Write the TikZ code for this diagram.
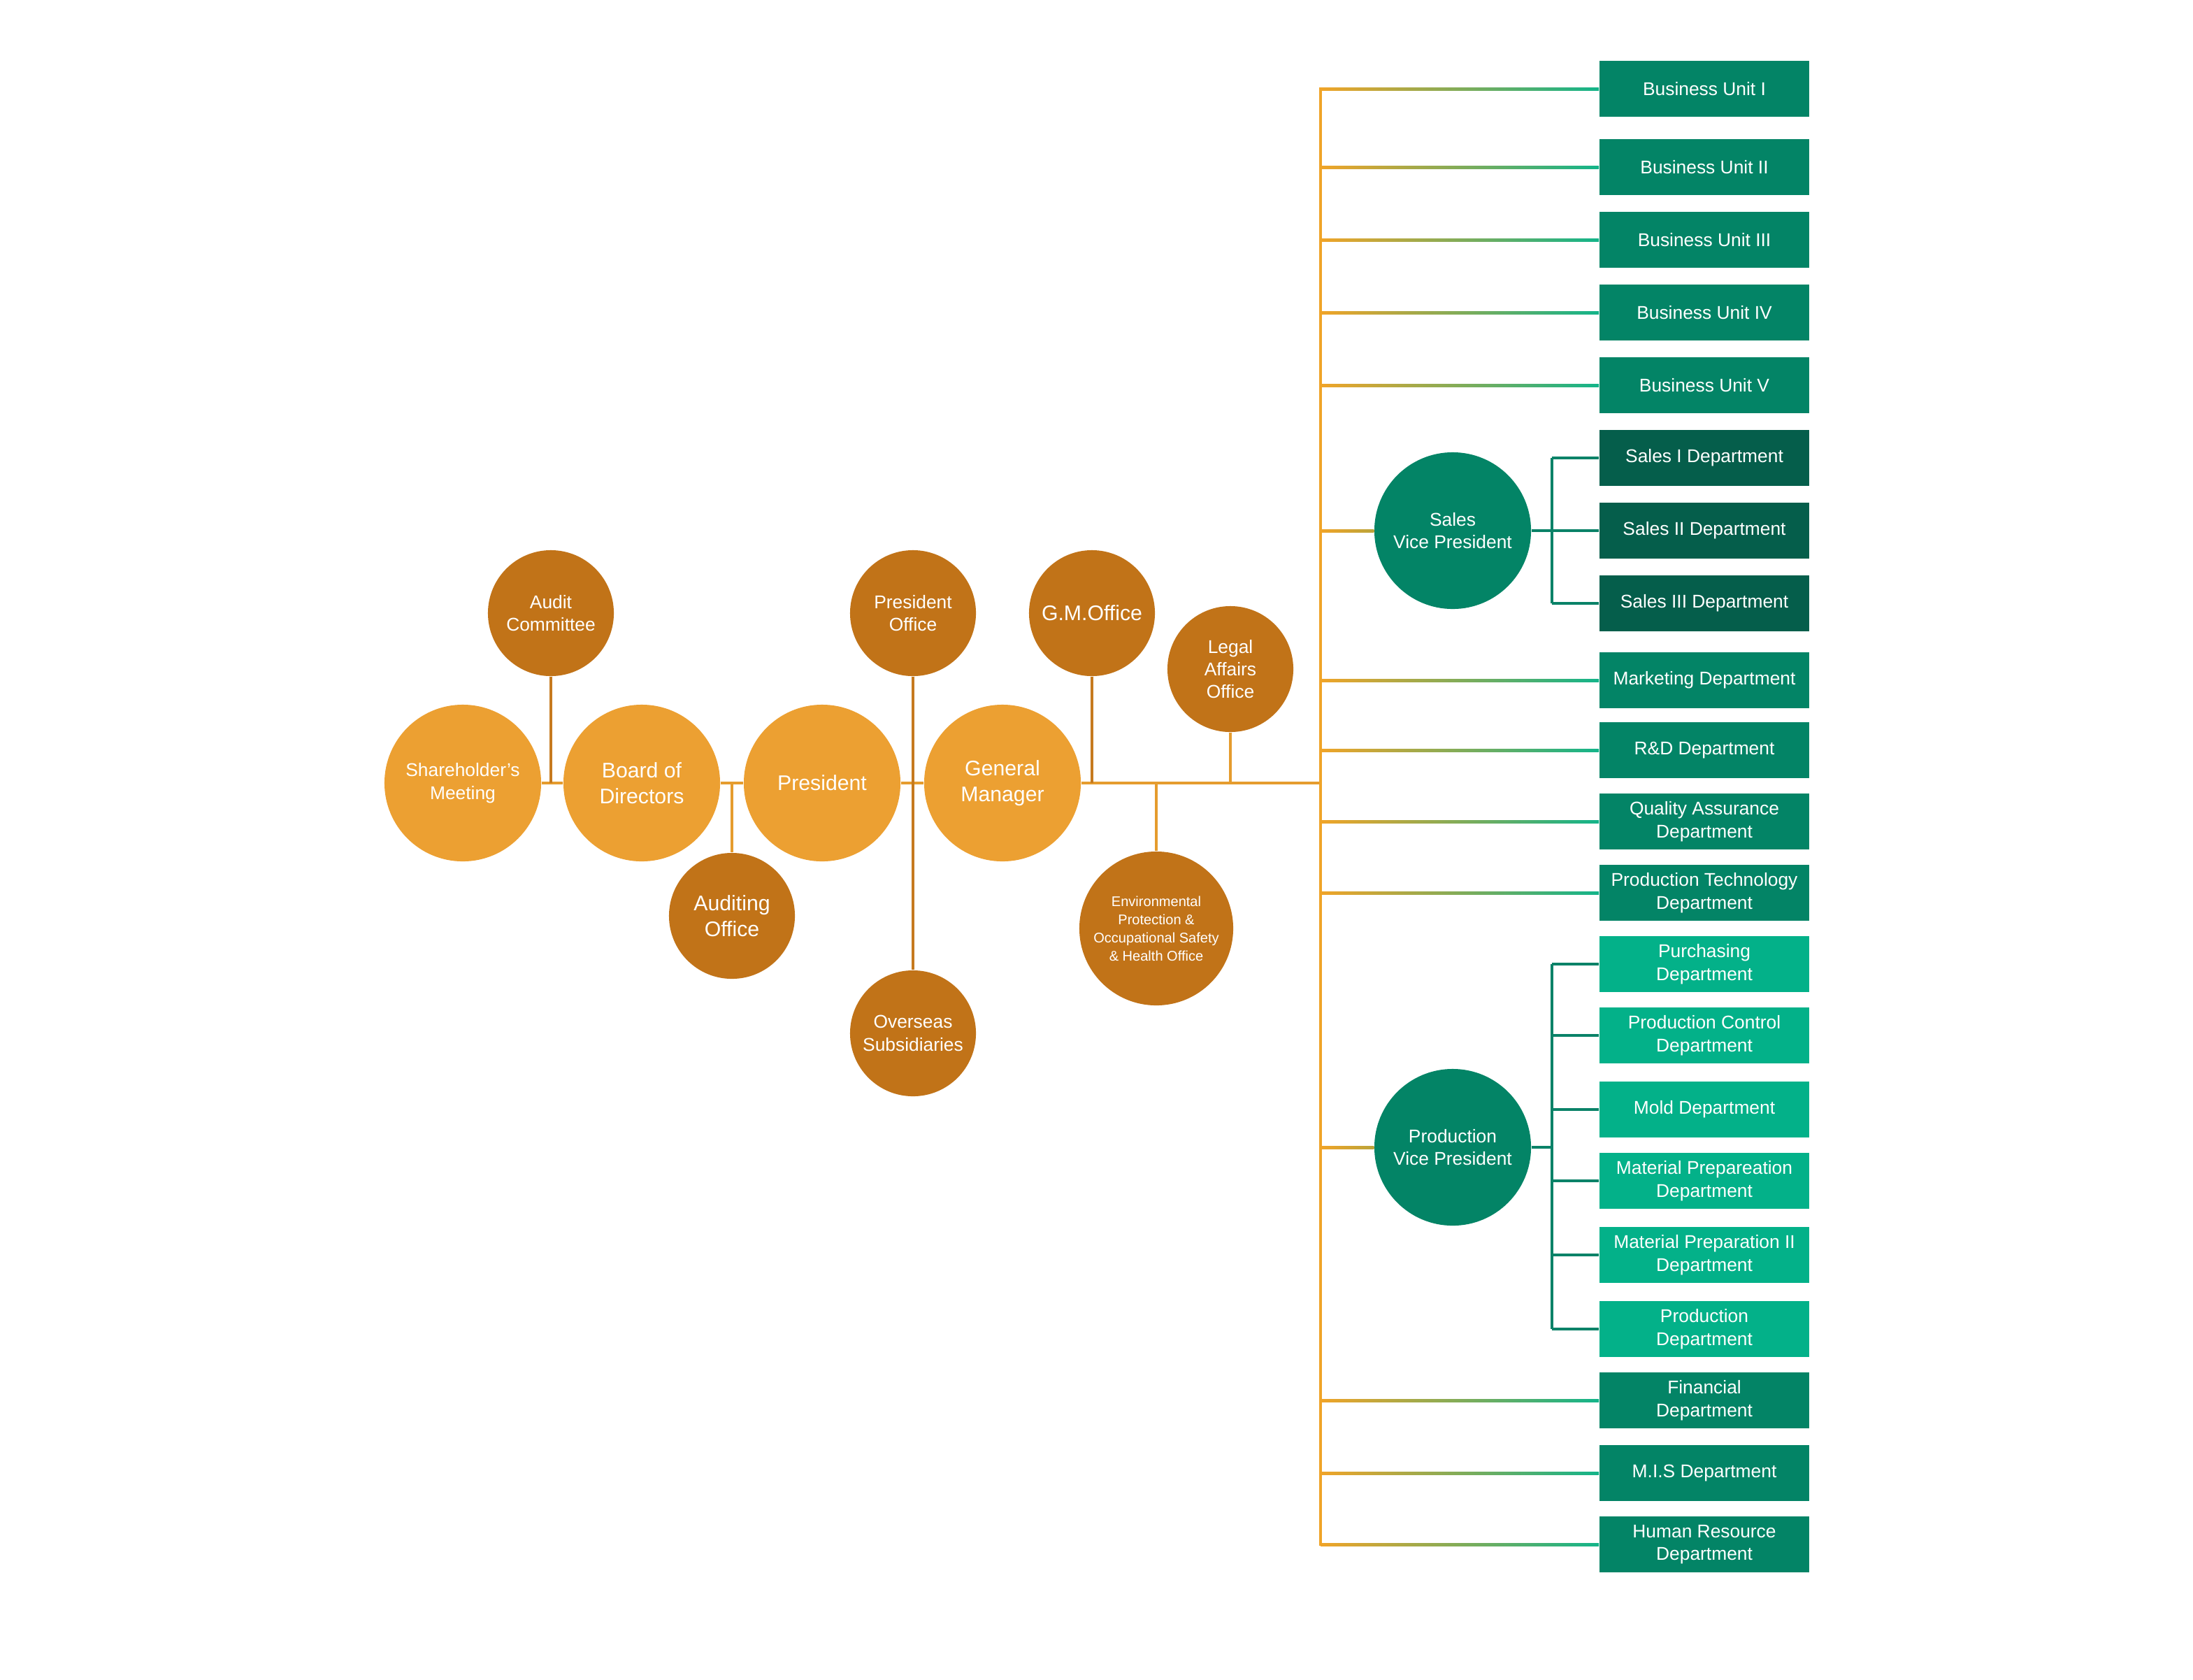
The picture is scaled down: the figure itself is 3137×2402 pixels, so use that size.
\documentclass[tikz,border=0pt]{standalone}
\usepackage{fontspec}
\setmainfont{Liberation Sans}
\usetikzlibrary{calc}
\definecolor{corelight}{HTML}{ECA032}
\definecolor{coredark}{HTML}{C17318}
\definecolor{orline}{HTML}{E59C2E}
\definecolor{drkline}{HTML}{C67A1E}
\definecolor{busor}{HTML}{F0A428}
\definecolor{gradend}{HTML}{13B48A}
\definecolor{vpmix}{HTML}{BBA43A}
\definecolor{boxgreen}{HTML}{038466}
\definecolor{salesgreen}{HTML}{055E4B}
\definecolor{prodgreen}{HTML}{03B189}
\definecolor{subgreen}{HTML}{0A8268}
\begin{document}
\begin{tikzpicture}[x=0.01cm,y=-0.01cm,
	every node/.style={text=white,align=center,inner sep=0pt,font=\fontsize{7.5}{9.2}\selectfont},
	core/.style={circle,fill=corelight,minimum size=2.24cm,font=\fontsize{8.6}{10.4}\selectfont},
	office/.style={circle,fill=coredark,minimum size=1.8cm},
	big/.style={font=\fontsize{8.6}{10.4}\selectfont},
	vp/.style={circle,fill=boxgreen,minimum size=2.24cm},
	dept/.style={rectangle,fill=boxgreen,minimum width=3cm,minimum height=0.8cm},
	link/.style={line width=1.14pt,color=orline},
	sublink/.style={line width=1.14pt,color=subgreen}]

	\useasboundingbox (0,0) rectangle (3137,2402);

	\node[core,font=\fontsize{7.5}{9.2}\selectfont] (sh) at (662,1120) {Shareholder’s\\Meeting};
	\node[core] (bod) at (918,1120) {Board of\\Directors};
	\node[core] (pres) at (1176,1120) {President};
	\node[core] (gm) at (1434,1120) {General\\Manager};
	\node[office] (ac) at (788,877) {Audit\\Committee};
	\node[office,big] (ao) at (1047,1310) {Auditing\\Office};
	\node[office] (po) at (1306,877) {President\\Office};
	\node[office] (os) at (1306,1478) {Overseas\\Subsidiaries};
	\node[office,big] (gmo) at (1562,877) {G.M.Office};
	\node[office] (la) at (1760,957) {Legal\\Affairs\\Office};
	\node[office,minimum size=2.2cm,font=\fontsize{5.7}{7.4}\selectfont] (env) at (1654,1328) {Environmental\\Protection \&\\Occupational Safety\\\& Health Office};
	\coordinate (bus) at (1889,1120);

	\node[vp] (svp) at (2078,759) {Sales\\Vice President};
	\node[vp] (pvp) at (2078,1641) {Production\\Vice President};
	\coordinate (sbus) at (2220,759);
	\coordinate (pbus) at (2220,1641);

	\node[dept] (bu1) at (2438,127) {Business Unit I};
	\node[dept] (bu2) at (2438,239) {Business Unit II};
	\node[dept] (bu3) at (2438,343) {Business Unit III};
	\node[dept] (bu4) at (2438,447) {Business Unit IV};
	\node[dept] (bu5) at (2438,551) {Business Unit V};
	\node[dept,fill=salesgreen] (s1) at (2438,655) {Sales I Department};
	\node[dept,fill=salesgreen] (s2) at (2438,759) {Sales II Department};
	\node[dept,fill=salesgreen] (s3) at (2438,863) {Sales III Department};
	\node[dept] (mkt) at (2438,973) {Marketing Department};
	\node[dept] (rd) at (2438,1073) {R\&D Department};
	\node[dept] (qa) at (2438,1175) {Quality Assurance\\Department};
	\node[dept] (pt) at (2438,1277) {Production Technology\\Department};
	\node[dept,fill=prodgreen] (pur) at (2438,1379) {Purchasing\\Department};
	\node[dept,fill=prodgreen] (pc) at (2438,1481) {Production Control\\Department};
	\node[dept,fill=prodgreen] (mold) at (2438,1587) {Mold Department};
	\node[dept,fill=prodgreen] (mp1) at (2438,1689) {Material Prepareation\\Department};
	\node[dept,fill=prodgreen] (mp2) at (2438,1795) {Material Preparation II\\Department};
	\node[dept,fill=prodgreen] (prod) at (2438,1901) {Production\\Department};
	\node[dept] (fin) at (2438,2003) {Financial\\Department};
	\node[dept] (mis) at (2438,2107) {M.I.S Department};
	\node[dept] (hr) at (2438,2209) {Human Resource\\Department};

	\draw[link] (sh) -- (bod) (bod) -- (pres) (pres) -- (gm) (gm.east) -- (bus);
	\draw[link,color=drkline] (ac.south) -- (ac |- sh.east);
	\draw[link] (ao.north) -- (ao |- bod.east);
	\draw[link,color=drkline] (po.south) -- (os.north);
	\draw[link,color=drkline] (gmo.south) -- (gmo |- gm.east);
	\draw[link] (la.south) -- (la |- gm.east);
	\draw[link] (env.north) -- (env |- gm.east);

	\draw[link,color=busor,line cap=rect] (bus |- bu1.west) -- (bus |- hr.west);
	\foreach \b in {bu1,bu2,bu3,bu4,bu5,mkt,rd,qa,pt,fin,mis,hr}
		\shade[left color=busor,right color=gradend] ($(bus |- \b.west)+(0,-2)$) rectangle ($(\b.west)+(0,2)$);
	\foreach \v in {svp,pvp}
		\shade[left color=busor,right color=vpmix] ($(bus |- \v.west)+(0,-2)$) rectangle ($(\v.west)+(0,2)$);

	\draw[sublink] (svp.east) -- (sbus);
	\draw[sublink] (sbus |- s1.west) -- (sbus |- s3.west);
	\foreach \d in {s1,s2,s3}
		\draw[sublink] (sbus |- \d.west) -- (\d.west);
	\draw[sublink] (pvp.east) -- (pbus);
	\draw[sublink] (pbus |- pur.west) -- (pbus |- prod.west);
	\foreach \d in {pur,pc,mold,mp1,mp2,prod}
		\draw[sublink] (pbus |- \d.west) -- (\d.west);
\end{tikzpicture}
\end{document}
